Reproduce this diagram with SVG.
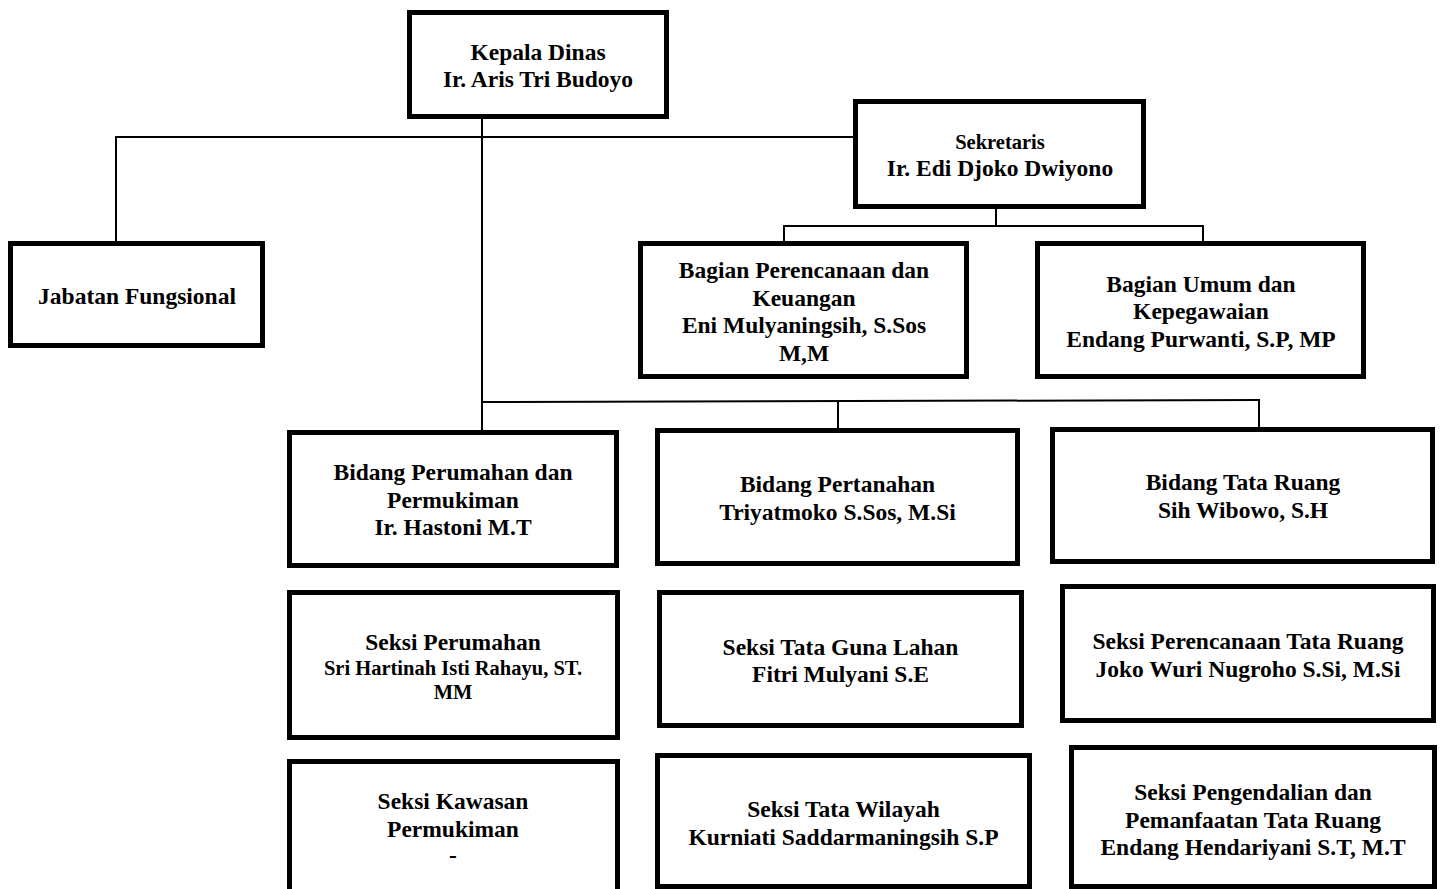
<svg xmlns="http://www.w3.org/2000/svg" width="1440" height="889" viewBox="0 0 1440 889">
<style>
.box{fill:#fff;stroke:#000;stroke-width:5}
.t{font-family:"Liberation Serif","Times New Roman",serif;font-weight:bold;font-size:23.5px;text-anchor:middle;fill:#000}
.s{font-size:20.5px}
.c{stroke:#000;stroke-width:2;fill:none}
</style>
<rect width="1440" height="889" fill="#fff"/>
<g id="n-kepala"><rect class="box" x="409.5" y="12.5" width="257" height="104"/>
<text class="t" x="538" y="60">Kepala Dinas</text><text class="t" x="538" y="87">Ir. Aris Tri Budoyo</text></g>
<g id="n-sekretaris"><rect class="box" x="855.5" y="101.5" width="288" height="105"/>
<text class="t s" x="1000" y="149">Sekretaris</text><text class="t" x="1000" y="176">Ir. Edi Djoko Dwiyono</text></g>
<g id="n-jabatan"><rect class="box" x="10.5" y="243.5" width="252" height="102"/>
<text class="t" x="137" y="304">Jabatan Fungsional</text></g>
<g id="n-bag-perencanaan"><rect class="box" x="640.5" y="243.5" width="326" height="133"/>
<text class="t" x="804" y="278">Bagian Perencanaan dan</text><text class="t" x="804" y="306">Keuangan</text><text class="t" x="804" y="333">Eni Mulyaningsih, S.Sos</text><text class="t" x="804" y="361">M,M</text></g>
<g id="n-bag-umum"><rect class="box" x="1037.5" y="243.5" width="326" height="133"/>
<text class="t" x="1201" y="291.5">Bagian Umum dan</text><text class="t" x="1201" y="319">Kepegawaian</text><text class="t" x="1201" y="346.5">Endang Purwanti, S.P, MP</text></g>
<g id="n-bid-perumahan"><rect class="box" x="289.5" y="432.5" width="327" height="133"/>
<text class="t" x="453" y="480">Bidang Perumahan dan</text><text class="t" x="453" y="507.5">Permukiman</text><text class="t" x="453" y="535">Ir. Hastoni M.T</text></g>
<g id="n-bid-pertanahan"><rect class="box" x="657.5" y="430.5" width="360" height="133"/>
<text class="t" x="837.5" y="492">Bidang Pertanahan</text><text class="t" x="837.5" y="519.5">Triyatmoko S.Sos, M.Si</text></g>
<g id="n-bid-tataruang"><rect class="box" x="1052.5" y="429.5" width="380" height="132"/>
<text class="t" x="1243" y="490">Bidang Tata Ruang</text><text class="t" x="1243" y="517.5">Sih Wibowo, S.H</text></g>
<g id="n-seksi-perumahan"><rect class="box" x="289.5" y="592.5" width="328" height="145"/>
<text class="t" x="453" y="650">Seksi Perumahan</text><text class="t s" x="453" y="675">Sri Hartinah Isti Rahayu, ST.</text><text class="t s" x="453" y="699">MM</text></g>
<g id="n-seksi-tgl"><rect class="box" x="659.5" y="592.5" width="362" height="133"/>
<text class="t" x="840.5" y="655">Seksi Tata Guna Lahan</text><text class="t" x="840.5" y="682">Fitri Mulyani S.E</text></g>
<g id="n-seksi-ptr"><rect class="box" x="1062.5" y="586.5" width="371" height="134"/>
<text class="t" x="1248" y="649">Seksi Perencanaan Tata Ruang</text><text class="t" x="1248" y="677">Joko Wuri Nugroho S.Si, M.Si</text></g>
<g id="n-seksi-kawasan"><rect class="box" x="289.5" y="761.5" width="328" height="150"/>
<text class="t" x="453" y="809">Seksi Kawasan</text><text class="t" x="453" y="836.5">Permukiman</text><text class="t" x="453" y="863">-</text></g>
<g id="n-seksi-tw"><rect class="box" x="657.5" y="755.5" width="372" height="131"/>
<text class="t" x="843.5" y="817">Seksi Tata Wilayah</text><text class="t" x="843.5" y="845">Kurniati Saddarmaningsih S.P</text></g>
<g id="n-seksi-pengendalian"><rect class="box" x="1071.5" y="747.5" width="363" height="139"/>
<text class="t" x="1253" y="800">Seksi Pengendalian dan</text><text class="t" x="1253" y="827.5">Pemanfaatan Tata Ruang</text><text class="t" x="1253" y="855">Endang Hendariyani S.T, M.T</text></g>
<g id="connectors">
<line class="c" x1="482" y1="114" x2="482" y2="430"/>
<line class="c" x1="116" y1="137" x2="853" y2="137"/>
<line class="c" x1="116" y1="136" x2="116" y2="241"/>
<line class="c" x1="996" y1="209" x2="996" y2="226"/>
<line class="c" x1="784" y1="226" x2="1203" y2="226"/>
<line class="c" x1="784" y1="225" x2="784" y2="241"/>
<line class="c" x1="1203" y1="225" x2="1203" y2="241"/>
<line class="c" x1="482" y1="402" x2="1259" y2="400"/>
<line class="c" x1="838" y1="401" x2="838" y2="428"/>
<line class="c" x1="1259" y1="399" x2="1259" y2="427"/>
</g>
</svg>
